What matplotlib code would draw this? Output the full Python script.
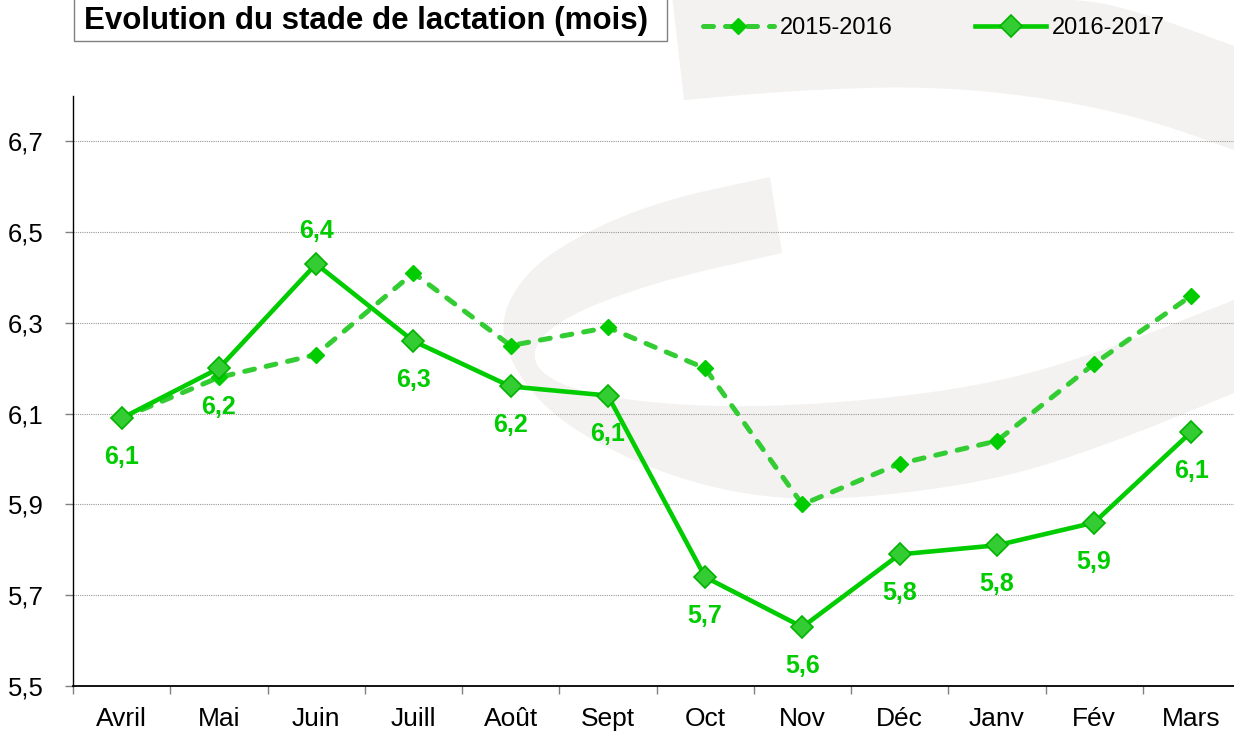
#! /usr/bin/python3

# Evolution du stade de lactation (mois), 2015-2016 vs 2016-2017

import numpy as np
import matplotlib
matplotlib.use("Agg")
import matplotlib.pyplot as plt
from matplotlib.patches import Polygon, Rectangle

plt.rcParams['font.family'] = ['Liberation Sans', 'DejaVu Sans']

months = ["Avril", "Mai", "Juin", "Juill", "Août", "Sept",
          "Oct", "Nov", "Déc", "Janv", "Fév", "Mars"]
y2015 = [6.09, 6.18, 6.23, 6.41, 6.25, 6.29, 6.20, 5.90, 5.99, 6.04, 6.21, 6.36]
y2016 = [6.09, 6.20, 6.43, 6.26, 6.16, 6.14, 5.74, 5.63, 5.79, 5.81, 5.86, 6.06]
label_above = [False, False, True, False, False, False,
               False, False, False, False, False, False]
yticks = [5.5, 5.7, 5.9, 6.1, 6.3, 6.5, 6.7]

W, H = 1234, 731
fig = plt.figure(figsize=(W / 100, H / 100), dpi=100, facecolor="w")


def chaikin(pts, n=4):
    # corner cutting to round off the watermark outline (open curve)
    p = np.asarray(pts, float)
    for _ in range(n):
        q = 0.75 * p[:-1] + 0.25 * p[1:]
        r = 0.25 * p[:-1] + 0.75 * p[1:]
        p = np.vstack([p[:1], np.column_stack([q, r]).reshape(-1, 2), p[-1:]])
    return p


def px(p):
    # pixel coords (y down) -> figure fraction
    p = np.asarray(p, float)
    return np.column_stack([p[:, 0] / W, 1 - p[:, 1] / H])


# light grey "C" watermark in the background
wm = "#f3f2f1"
c_outer = [(770, 177), (650, 203), (550, 250), (505, 300), (502, 350),
           (550, 417), (650, 470), (750, 497), (850, 500), (1000, 480),
           (1120, 440), (1234, 393)]
c_inner = [(1234, 300), (1120, 345), (1000, 383), (850, 403), (700, 408),
           (575, 393), (527, 363), (550, 323), (650, 283), (782, 253)]
band_low = [(684, 100), (800, 90), (930, 86), (1050, 98), (1150, 120), (1234, 150)]
band_up = [(1234, 46), (1150, 15), (1070, -5), (672, -5)]
shapes = [np.vstack([chaikin(c_outer), chaikin(c_inner)]),
          np.vstack([chaikin(band_low), chaikin(band_up)])]
for shape in shapes:
    fig.patches.append(Polygon(px(shape), closed=True, transform=fig.transFigure,
                               facecolor=wm, edgecolor="none", zorder=-5))

ax = fig.add_axes([73 / W, 1 - 686 / H, 1167 / W, 590 / H])
ax.patch.set_alpha(0)

x = np.arange(len(months))
l1, = ax.plot(x, y2015, color="#33cc33", lw=3.6, dashes=(2.0, 2.4),
              dash_capstyle="round", marker="D", ms=8, mfc="#00cc00",
              mec="#00cc00", zorder=3, label="2015-2016")
l2, = ax.plot(x, y2016, color="#00cc00", lw=3.3, marker="D", ms=11,
              mfc="#33cc33", mec="#00b400", mew=1.2, zorder=4, label="2016-2017")

for xi, v, up in zip(x, y2016, label_above):
    ax.annotate(f"{v:.1f}".replace(".", ","), (xi, v),
                xytext=(0, 24 if up else -28), textcoords="offset points",
                ha="center", va="center", fontsize=18, fontweight="bold",
                color="#00cc00", zorder=5)

ax.set_xlim(-0.5, len(months) - 0.5)
ax.set_ylim(5.5, 6.8)
ax.set_xticks(x)
ax.set_xticklabels(months, fontsize=19)
ax.set_xticks(np.arange(-0.5, len(months), 1), minor=True)
ax.tick_params(axis="x", which="major", length=0, pad=15)
ax.tick_params(axis="x", which="minor", length=6, width=1, color="#808080",
               direction="out")
ax.set_yticks(yticks)
ax.set_yticklabels([f"{t:.1f}".replace(".", ",") for t in yticks], fontsize=18.5)
ax.tick_params(axis="y", length=6, width=1, color="#808080", pad=15)
ax.yaxis.grid(True, color="#999999", lw=0.8, ls=(0, (1, 1)))
ax.set_axisbelow(True)
for s in ("top", "right"):
    ax.spines[s].set_visible(False)
ax.spines["left"].set_linewidth(1)
ax.spines["bottom"].set_linewidth(1.3)

# title box
fig.patches.append(Rectangle((74 / W, 1 - 41 / H), 593 / W, 45 / H,
                             transform=fig.transFigure, facecolor="w",
                             edgecolor="#808080", lw=1, zorder=2))
fig.text(84 / W, 1 - 21 / H, "Evolution du stade de lactation (mois)",
         fontsize=22.5, fontweight="bold", ha="left", va="center", zorder=3)

fig.legend(handles=[l1, l2], loc="center left",
           bbox_to_anchor=(703 / W, 1 - 28 / H), ncol=2, frameon=False,
           fontsize=17, handlelength=3.0, handletextpad=0.25,
           columnspacing=3.5, borderpad=0, borderaxespad=0)

fig.savefig("out.png", dpi=100)
